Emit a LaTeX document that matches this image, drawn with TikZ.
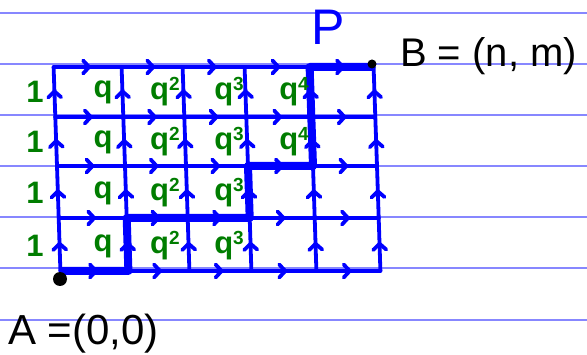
\documentclass[tikz,border=0pt]{standalone}
\usepackage{fontspec}
\setmainfont{Liberation Sans}
\usetikzlibrary{arrows.meta,decorations.markings}
\definecolor{ruleblue}{RGB}{135,135,255}
\definecolor{inkblue}{RGB}{0,0,255}
\definecolor{inkgreen}{RGB}{0,125,0}
\newcommand\qpow[1]{q\raisebox{0.55ex}{\fontsize{19pt}{19pt}\selectfont#1}}
\begin{document}
\begin{tikzpicture}[x=1pt,y=-1pt,
  rule/.style={ruleblue,line width=1.5pt},
  gridedge/.style={inkblue,line width=3.8pt,line cap=round,
    postaction={decorate},
    decoration={markings,mark=at position 0.55 with {\arrow{Straight Barb[length=6pt,width=13pt,round]}}}},
  bestpath/.style={inkblue,line width=8pt,line join=round},
  wlabel/.style={inkgreen,font=\fontsize{31pt}{31pt}\selectfont\bfseries,inner sep=0pt},
  bigtext/.style={font=\fontsize{42pt}{42pt}\selectfont,inner sep=0pt}
]
\useasboundingbox (0,0) rectangle (587,355);
\fill[white] (0,0) rectangle (587,355);
% ruled paper
\foreach \y in {13,64,115,166,217,268,320}
  \draw[rule] (0,\y) -- (587,\y);
% grid points
\foreach \i/\x in {0/57,1/125,2/186,3/248,4/313,5/377}
  \foreach \j/\y in {0/271,1/218,2/166,3/117,4/67}
    \coordinate (p-\i-\j) at ({\x+(2-\j)*1.7},\y);
% horizontal edges
\foreach \i in {0,...,4}
  \foreach \j in {0,...,4} {
    \pgfmathtruncatemacro\k{\i+1}
    \draw[gridedge] (p-\i-\j) -- (p-\k-\j);
  }
% vertical edges
\foreach \i in {0,...,5}
  \foreach \j in {0,...,3} {
    \pgfmathtruncatemacro\k{\j+1}
    \draw[gridedge] (p-\i-\j) -- (p-\i-\k);
  }
% highlighted path
\draw[bestpath] (p-0-0) -- (p-1-0) -- (p-1-1) -- (p-3-1) -- (p-3-2) -- (p-4-2) -- (p-4-4) -- (p-5-4);
% weights
\foreach \j/\y in {0/246,1/193,2/142,3/92} {
  \node[wlabel] (w-0-\j) at (35,\y) {1};
  \node[wlabel] (w-1-\j) at (103,\y) {q};
  \node[wlabel] (w-2-\j) at (165,\y) {\qpow{2}};
  \node[wlabel] (w-3-\j) at (229,\y) {\qpow{3}};
}
\foreach \j/\y in {2/142,3/92}
  \node[wlabel] (w-4-\j) at (294,\y) {\qpow{4}};
% end points
\fill (60,279) circle (7pt);
\fill (372,64) circle (4.5pt);
\node[bigtext,inkblue,font=\fontsize{50pt}{50pt}\selectfont] (P) at (328,27) {P};
\node[bigtext,anchor=base west,font=\fontsize{40pt}{40pt}\selectfont] (B) at (400,67) {B = (n, m)};
\node[bigtext,anchor=base west] (A) at (8,345) {A =(0,0)};
\end{tikzpicture}
\end{document}
